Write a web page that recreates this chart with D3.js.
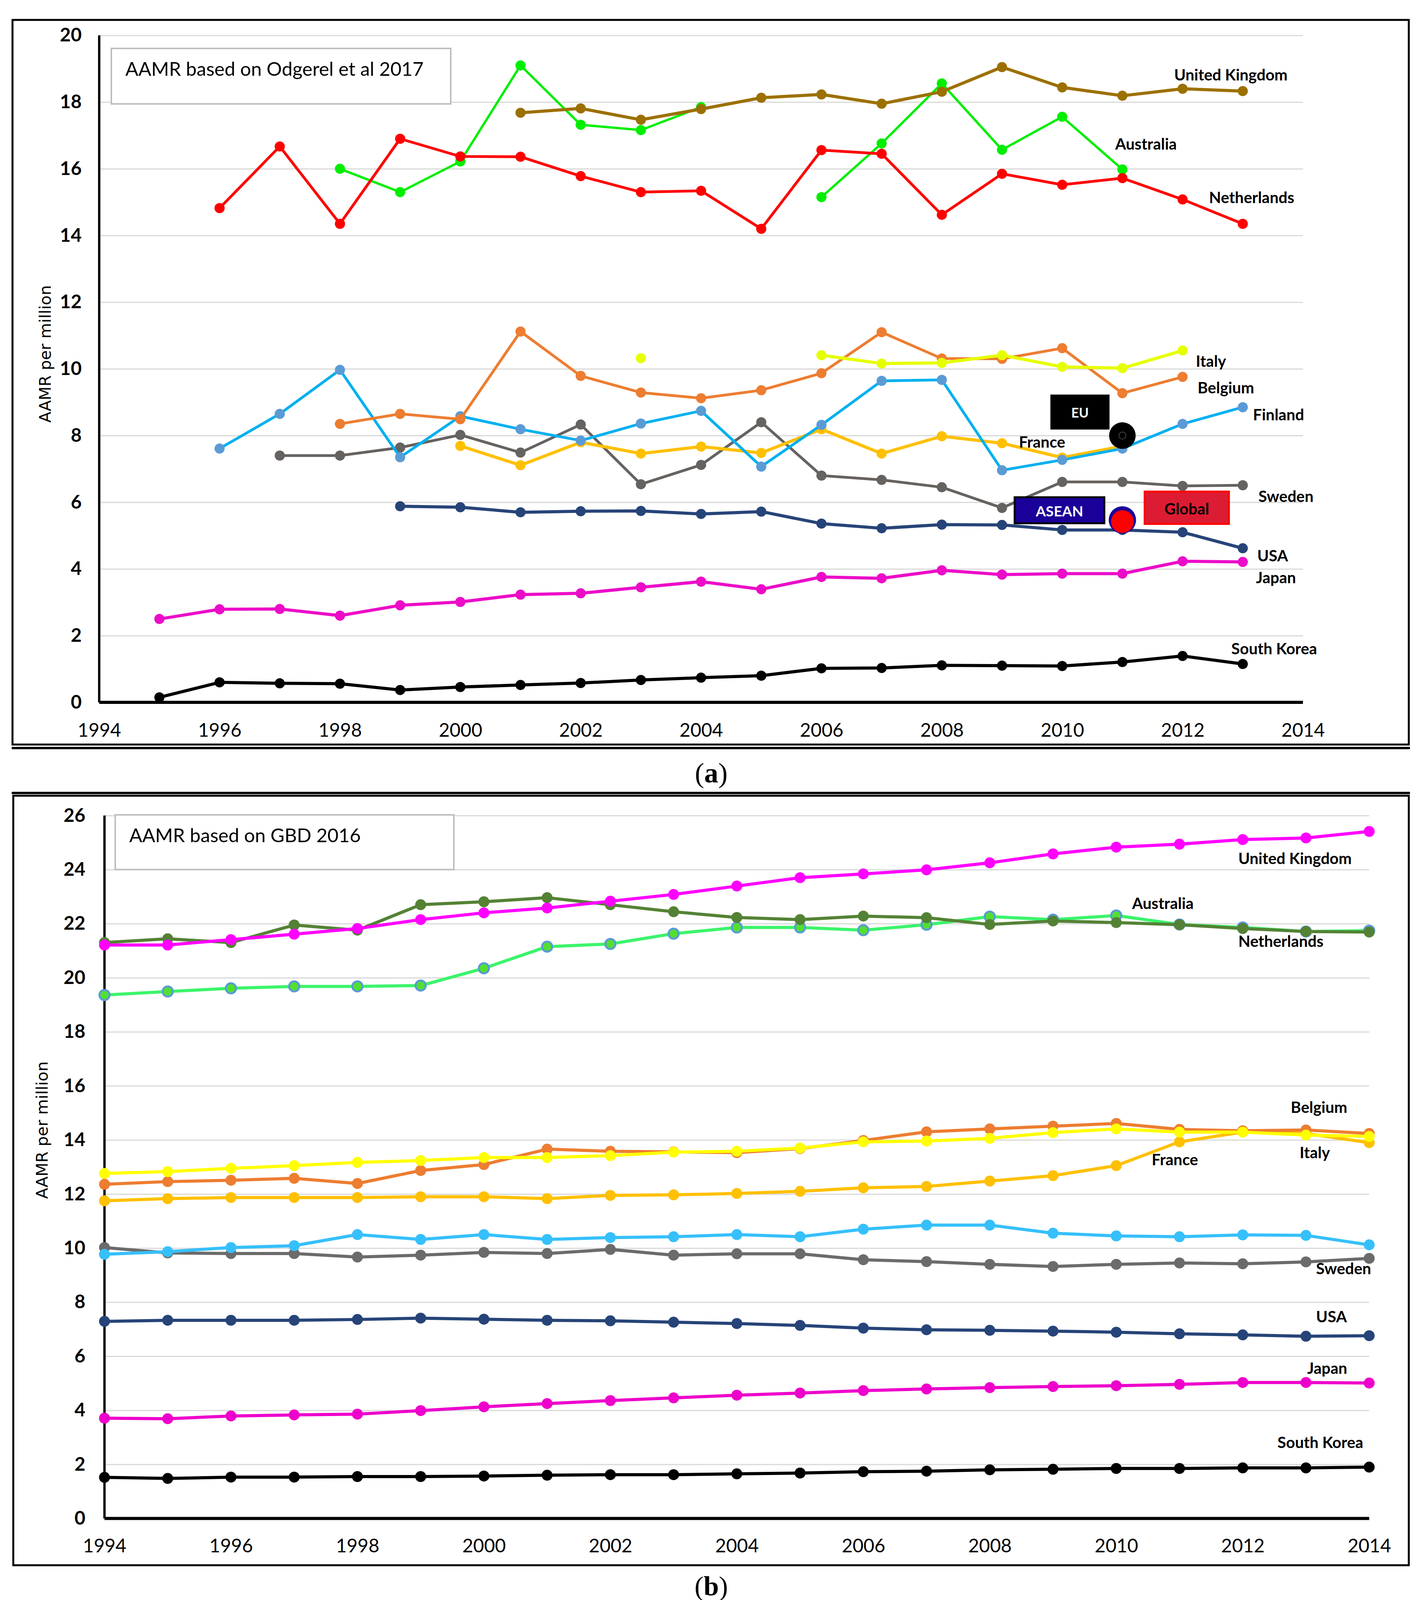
<!DOCTYPE html>
<html>
<head>
<meta charset="utf-8">
<script src="https://cdn.jsdelivr.net/npm/d3@7/dist/d3.min.js"></script>
<style>body{margin:0;background:#fff}</style>
</head>
<body>
<svg id="chart" width="3628" height="4135"></svg>
<script>
// ---- panel (a) data : AAMR based on Odgerel et al 2017 ----
var yearsA=[1995,1996,1997,1998,1999,2000,2001,2002,2003,2004,2005,2006,2007,2008,2009,2010,2011,2012,2013];
var ukA=[null,null,null,null,null,null,17.68,17.81,17.47,17.79,18.13,18.23,17.95,18.31,19.05,18.44,18.19,18.4,18.33];
var australiaA=[null,null,null,16.0,15.3,16.22,19.1,17.32,17.16,17.85,null,15.15,16.76,18.56,16.57,17.56,15.98,null,null];
var netherlandsA=[null,14.82,16.67,14.35,16.9,16.37,16.36,15.78,15.3,15.34,14.2,16.56,16.45,14.62,15.85,15.52,15.72,15.08,14.35];
var italyA=[null,null,null,null,null,null,null,null,10.32,null,null,10.41,10.16,10.18,10.41,10.06,10.02,10.55,null];
var belgiumA=[null,null,null,8.35,8.65,8.49,11.12,9.79,9.29,9.12,9.36,9.87,11.1,10.31,10.3,10.62,9.27,9.76,null];
var finlandA=[null,7.61,8.65,9.97,7.35,8.58,8.19,7.85,8.36,8.74,7.07,8.32,9.64,9.67,6.96,7.27,7.61,8.35,8.85];
var franceA=[null,null,null,null,null,7.69,7.11,7.8,7.46,7.67,7.48,8.19,7.46,7.98,7.77,7.34,7.68,null,null];
var swedenA=[null,null,7.4,7.4,7.64,8.02,7.49,8.33,6.54,7.12,8.4,6.8,6.67,6.45,5.83,6.61,6.61,6.49,6.51];
var usaA=[null,null,null,null,5.88,5.85,5.7,5.73,5.74,5.65,5.72,5.36,5.22,5.33,5.32,5.17,5.17,5.1,4.62];
var japanA=[2.5,2.79,2.8,2.6,2.91,3.01,3.23,3.27,3.45,3.62,3.39,3.76,3.72,3.96,3.83,3.86,3.86,4.23,4.21];
var koreaA=[0.15,0.6,0.57,0.56,0.37,0.46,0.52,0.58,0.67,0.74,0.8,1.02,1.03,1.11,1.1,1.09,1.21,1.39,1.15];
// single reference points in 2011
var euA=8.0, aseanA=5.47, globalA=5.42, refYear=2011;

// ---- panel (b) data : AAMR based on GBD 2016 ----
var yearsB=[1994,1995,1996,1997,1998,1999,2000,2001,2002,2003,2004,2005,2006,2007,2008,2009,2010,2011,2012,2013,2014];
var ukB=[21.21,21.21,21.41,21.61,21.82,22.15,22.4,22.58,22.83,23.08,23.39,23.7,23.84,23.99,24.25,24.58,24.83,24.94,25.11,25.17,25.41];
var netherlandsB=[21.3,21.44,21.3,21.95,21.76,22.7,22.81,22.96,22.7,22.44,22.23,22.15,22.28,22.22,21.97,22.1,22.04,21.96,21.82,21.71,21.69];
var australiaB=[19.36,19.49,19.61,19.68,19.68,19.71,20.35,21.15,21.25,21.63,21.86,21.86,21.76,21.96,22.26,22.15,22.3,21.97,21.86,21.71,21.74];
var belgiumB=[12.36,12.46,12.51,12.58,12.39,12.87,13.09,13.66,13.58,13.56,13.53,13.68,13.98,14.3,14.41,14.51,14.61,14.39,14.34,14.37,14.24];
var italyB=[12.76,12.83,12.95,13.05,13.17,13.24,13.35,13.35,13.42,13.55,13.58,13.7,13.93,13.96,14.06,14.27,14.41,14.29,14.29,14.18,14.13];
var franceB=[11.75,11.83,11.87,11.87,11.87,11.9,11.9,11.83,11.95,11.97,12.02,12.1,12.23,12.28,12.48,12.68,13.05,13.93,14.29,14.24,13.9];
var finlandB=[9.77,9.87,10.02,10.09,10.5,10.32,10.5,10.32,10.39,10.42,10.5,10.42,10.7,10.85,10.85,10.55,10.45,10.42,10.49,10.47,10.12];
var swedenB=[10.02,9.82,9.8,9.8,9.67,9.74,9.84,9.8,9.95,9.74,9.79,9.79,9.57,9.5,9.4,9.32,9.4,9.45,9.42,9.49,9.62];
var usaB=[7.29,7.33,7.33,7.33,7.36,7.41,7.37,7.33,7.31,7.26,7.21,7.14,7.04,6.98,6.96,6.93,6.89,6.83,6.79,6.74,6.76];
var japanB=[3.71,3.69,3.79,3.83,3.86,3.99,4.13,4.25,4.36,4.46,4.56,4.64,4.73,4.79,4.84,4.88,4.91,4.96,5.03,5.03,5.01];
var koreaB=[1.52,1.48,1.53,1.53,1.55,1.55,1.57,1.6,1.62,1.62,1.65,1.68,1.73,1.75,1.8,1.82,1.85,1.85,1.87,1.87,1.9];

// ---- ticks ----
var xTicks=[1994,1996,1998,2000,2002,2004,2006,2008,2010,2012,2014];
var yTicksA=[0,2,4,6,8,10,12,14,16,18,20];
var yTicksB=[0,2,4,6,8,10,12,14,16,18,20,22,24,26];

var sans="Lato, 'Open Sans', sans-serif";
var svg=d3.select("#chart");
svg.append("rect").attr("width",3628).attr("height",4135).attr("fill","#fff");

/*
 * draws frame, grid, axes and tick labels; returns the scales
 */
function makeFrame(o){
	var x=d3.scaleLinear().domain([1994,2014]).range(o.xr);
	var y=d3.scaleLinear().domain([0,o.ymax]).range(o.yr);
	var g=svg.append("g");
	var yAx=g.append("g").attr("transform","translate("+o.xr[0]+",0)")
		.call(d3.axisLeft(y).tickValues(o.yTicks).tickSize(-(o.xr[1]-o.xr[0])).tickPadding(o.ypad).tickFormat(d3.format("d")));
	yAx.select(".domain").remove();
	yAx.selectAll("line").attr("stroke","#d9d9d9").attr("stroke-width",3);
	yAx.selectAll("text").attr("font-family",sans).attr("font-size",48).attr("font-weight","bold").attr("fill","#000");
	var xAx=g.append("g").attr("transform","translate(0,"+o.yr[0]+")")
		.call(d3.axisBottom(x).tickValues(xTicks).tickSize(0).tickPadding(o.xpad).tickFormat(d3.format("d")));
	xAx.select(".domain").remove();
	xAx.selectAll("text").attr("font-family",sans).attr("font-size",48).attr("fill","#000");
	g.append("line").attr("x1",o.xr[0]).attr("x2",o.xr[0]).attr("y1",o.yr[1]).attr("y2",o.yr[0]).attr("stroke","#000").attr("stroke-width",6);
	g.append("line").attr("x1",o.xr[0]).attr("x2",o.xr[1]).attr("y1",o.yr[0]).attr("y2",o.yr[0]).attr("stroke","#000").attr("stroke-width",8);
	g.append("text").attr("transform","translate("+o.titleX+","+o.titleY+") rotate(-90)")
		.attr("text-anchor","middle").attr("font-family","'DejaVu Sans', sans-serif").attr("font-size",41).text("AAMR per million");
	g.append("rect").attr("x",o.box[0]).attr("y",o.box[1]).attr("width",o.box[2]).attr("height",o.box[3])
		.attr("fill","#fff").attr("stroke","#bfbfbf").attr("stroke-width",4);
	g.append("text").attr("x",o.box[0]+36).attr("y",o.box[1]+70).attr("font-family",sans).attr("font-size",49).text(o.boxText);
	return {x:x,y:y};
}

function series(sc,years,vals,col,w,r,mfill,mstroke){
	var line=d3.line().defined(function(d){return d!=null;})
		.x(function(d,i){return sc.x(years[i]);}).y(function(d){return sc.y(d);});
	var g=svg.append("g");
	g.append("path").datum(vals).attr("d",line).attr("fill","none").attr("stroke",col).attr("stroke-width",w).attr("stroke-linejoin","round");
	var pts=vals.map(function(v,i){return {yr:years[i],v:v};}).filter(function(d){return d.v!=null;});
	g.selectAll("circle").data(pts).enter().append("circle")
		.attr("cx",function(d){return sc.x(d.yr);}).attr("cy",function(d){return sc.y(d.v);}).attr("r",r)
		.attr("fill",mfill||col).attr("stroke",mstroke||"none").attr("stroke-width",mstroke?5:0);
}

function label(sc,yr,v,txt){
	svg.append("text").attr("x",sc.x(yr)).attr("y",sc.y(v)).attr("font-family",sans).attr("font-size",40)
		.attr("font-weight","bold").attr("fill","#000").text(txt);
}

// ---------------- panel (a) ----------------
svg.append("rect").attr("x",32).attr("y",51).attr("width",3575).attr("height",1855).attr("fill","none").attr("stroke","#000").attr("stroke-width",5);
svg.append("line").attr("x1",30).attr("x2",3610).attr("y1",1915).attr("y2",1915).attr("stroke","#000").attr("stroke-width",6);

var sa=makeFrame({xr:[254,3336],yr:[1798,90.6],ymax:20,yTicks:yTicksA,ypad:45,xpad:54,
	titleX:130,titleY:906,box:[285,124,869,142],boxText:"AAMR based on Odgerel et al 2017"});

series(sa,yearsA,japanA,"#ec0cc8",8,13);
series(sa,yearsA,koreaA,"#000",8,13);
series(sa,yearsA,usaA,"#264478",8,13);
series(sa,yearsA,swedenA,"#666260",7,13);
series(sa,yearsA,franceA,"#ffc000",8,13);
series(sa,yearsA,finlandA,"#00b0f0",7,13,"#5b9bd5");
series(sa,yearsA,belgiumA,"#ed7d31",7,13);
series(sa,yearsA,italyA,"#e6ff00",8,13);
series(sa,yearsA,australiaA,"#00ee00",6,13);
series(sa,yearsA,netherlandsA,"#ff0000",7,13);
series(sa,yearsA,ukA,"#9c7000",8,13);

// reference boxes and markers (EU, ASEAN, Global)
function refBox(sc,x0,x1,v0,v1,fill,stroke,txt,tcol,fs){
	svg.append("rect").attr("x",sc.x(x0)).attr("y",sc.y(v0)).attr("width",sc.x(x1)-sc.x(x0)).attr("height",sc.y(v1)-sc.y(v0))
		.attr("fill",fill).attr("stroke",stroke).attr("stroke-width",5);
	svg.append("text").attr("x",(sc.x(x0)+sc.x(x1))/2).attr("y",(sc.y(v0)+sc.y(v1))/2+fs*0.42)
		.attr("text-anchor","middle").attr("font-family",sans).attr("font-size",fs).attr("font-weight","bold").attr("fill",tcol).text(txt);
}
refBox(sa,2009.82,2010.77,9.2,8.21,"#000","#000","EU","#fff",34);
refBox(sa,2009.21,2010.7,6.15,5.37,"#1a0099","#000","ASEAN","#fff",37);
refBox(sa,2011.37,2012.77,6.32,5.35,"#dc1c33","#ff0000","Global","#000",40);
svg.append("circle").attr("cx",sa.x(refYear)).attr("cy",sa.y(euA)).attr("r",34).attr("fill","#000");
svg.append("circle").attr("cx",sa.x(refYear)).attr("cy",sa.y(euA)).attr("r",9).attr("fill","none").attr("stroke","#444").attr("stroke-width",2);
svg.append("circle").attr("cx",sa.x(refYear)).attr("cy",sa.y(aseanA)).attr("r",35).attr("fill","#1a0099");
svg.append("circle").attr("cx",sa.x(refYear)).attr("cy",sa.y(globalA)).attr("r",29).attr("fill","#ff0000");

label(sa,2011.86,18.65,"United Kingdom");
label(sa,2010.88,16.57,"Australia");
label(sa,2012.44,14.97,"Netherlands");
label(sa,2012.22,10.06,"Italy");
label(sa,2012.25,9.27,"Belgium");
label(sa,2013.17,8.46,"Finland");
label(sa,2009.28,7.64,"France");
label(sa,2013.26,6.01,"Sweden");
label(sa,2013.24,4.23,"USA");
label(sa,2013.22,3.57,"Japan");
label(sa,2012.81,1.44,"South Korea");

var capA=svg.append("text").attr("x",1821).attr("y",2003).attr("text-anchor","middle")
	.attr("font-family","'Liberation Serif', serif").attr("font-size",72);
capA.append("tspan").text("(");
capA.append("tspan").attr("font-weight","bold").text("a");
capA.append("tspan").text(")");

// ---------------- panel (b) ----------------
svg.append("line").attr("x1",30).attr("x2",3610).attr("y1",2030).attr("y2",2030).attr("stroke","#000").attr("stroke-width",6);
svg.append("rect").attr("x",34).attr("y",2037).attr("width",3573).attr("height",1970).attr("fill","none").attr("stroke","#000").attr("stroke-width",5);

var sb=makeFrame({xr:[267.5,3505.6],yr:[3887.3,2087.7],ymax:26,yTicks:yTicksB,ypad:49,xpad:53,
	titleX:122,titleY:2893,box:[295,2086,867,140],boxText:"AAMR based on GBD 2016"});

series(sb,yearsB,koreaB,"#000",8,14);
series(sb,yearsB,japanB,"#ee00cc",8,14);
series(sb,yearsB,usaB,"#264478",8,14);
series(sb,yearsB,swedenB,"#6b6b6b",8,14);
series(sb,yearsB,finlandB,"#36c0fb",8,14);
series(sb,yearsB,franceB,"#ffc000",8,14);
series(sb,yearsB,belgiumB,"#ed7d31",8,14);
series(sb,yearsB,italyB,"#ffff00",8,14);
series(sb,yearsB,australiaB,"#3cf46c",8,13,"#52e02e","#5b9bd5");
series(sb,yearsB,netherlandsB,"#548235",8,14);
series(sb,yearsB,ukB,"#ff00ff",8,14);

label(sb,2011.93,24.21,"United Kingdom");
label(sb,2010.25,22.54,"Australia");
label(sb,2011.93,21.14,"Netherlands");
label(sb,2012.76,15.0,"Belgium");
label(sb,2010.56,13.06,"France");
label(sb,2012.9,13.33,"Italy");
label(sb,2013.16,9.03,"Sweden");
label(sb,2013.16,7.25,"USA");
label(sb,2013.02,5.35,"Japan");
label(sb,2012.55,2.61,"South Korea");

var capB=svg.append("text").attr("x",1821).attr("y",4084).attr("text-anchor","middle")
	.attr("font-family","'Liberation Serif', serif").attr("font-size",70);
capB.append("tspan").text("(");
capB.append("tspan").attr("font-weight","bold").text("b");
capB.append("tspan").text(")");
</script>
</body>
</html>
